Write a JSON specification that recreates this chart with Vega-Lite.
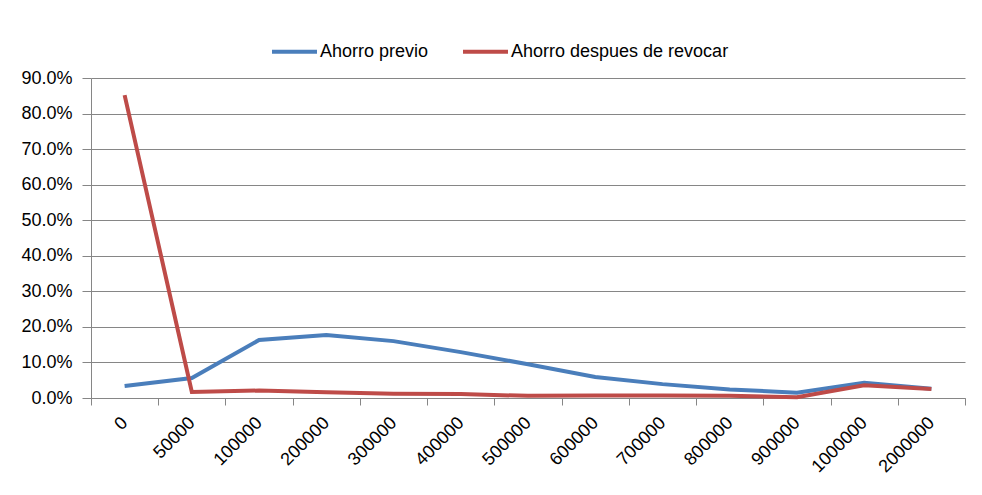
{
  "$schema": "https://vega.github.io/schema/vega-lite/v6.json",
  "autosize": {"type": "none"},
  "width": 874,
  "height": 320,
  "padding": {"left": 91, "top": 78, "right": 17, "bottom": 97},
  "background": "white",
  "config": {
    "font": "Liberation Sans",
    "view": {"stroke": null},
    "axis": {"labelFont": "Liberation Sans", "labelFontSize": 18, "labelColor": "#000000", "domainColor": "#868686", "tickColor": "#868686", "gridColor": "#868686", "gridOpacity": 1}
  },
  "data": {
    "values": [
      {"ingreso": "0", "serie": "Ahorro previo", "valor": 0.034},
      {"ingreso": "50000", "serie": "Ahorro previo", "valor": 0.056},
      {"ingreso": "100000", "serie": "Ahorro previo", "valor": 0.163},
      {"ingreso": "200000", "serie": "Ahorro previo", "valor": 0.177},
      {"ingreso": "300000", "serie": "Ahorro previo", "valor": 0.160},
      {"ingreso": "400000", "serie": "Ahorro previo", "valor": 0.129},
      {"ingreso": "500000", "serie": "Ahorro previo", "valor": 0.095},
      {"ingreso": "600000", "serie": "Ahorro previo", "valor": 0.059},
      {"ingreso": "700000", "serie": "Ahorro previo", "valor": 0.039},
      {"ingreso": "800000", "serie": "Ahorro previo", "valor": 0.024},
      {"ingreso": "900000", "serie": "Ahorro previo", "valor": 0.015},
      {"ingreso": "1000000", "serie": "Ahorro previo", "valor": 0.043},
      {"ingreso": "2000000", "serie": "Ahorro previo", "valor": 0.026},
      {"ingreso": "0", "serie": "Ahorro despues de revocar", "valor": 0.852},
      {"ingreso": "50000", "serie": "Ahorro despues de revocar", "valor": 0.017},
      {"ingreso": "100000", "serie": "Ahorro despues de revocar", "valor": 0.021},
      {"ingreso": "200000", "serie": "Ahorro despues de revocar", "valor": 0.016},
      {"ingreso": "300000", "serie": "Ahorro despues de revocar", "valor": 0.012},
      {"ingreso": "400000", "serie": "Ahorro despues de revocar", "valor": 0.011},
      {"ingreso": "500000", "serie": "Ahorro despues de revocar", "valor": 0.006},
      {"ingreso": "600000", "serie": "Ahorro despues de revocar", "valor": 0.007},
      {"ingreso": "700000", "serie": "Ahorro despues de revocar", "valor": 0.007},
      {"ingreso": "800000", "serie": "Ahorro despues de revocar", "valor": 0.006},
      {"ingreso": "900000", "serie": "Ahorro despues de revocar", "valor": 0.002},
      {"ingreso": "1000000", "serie": "Ahorro despues de revocar", "valor": 0.036},
      {"ingreso": "2000000", "serie": "Ahorro despues de revocar", "valor": 0.025}
    ]
  },
  "mark": {"type": "line", "strokeWidth": 4},
  "encoding": {
    "x": {
      "field": "ingreso", "type": "nominal", "sort": null, "bandPosition": 0.5,
      "scale": {"type": "band", "paddingInner": 0, "paddingOuter": 0},
      "axis": {"title": null, "tickBand": "extent", "tickSize": 7, "labelAngle": -45, "labelAlign": "right", "labelBaseline": "middle", "labelPadding": 15, "grid": false}
    },
    "y": {
      "field": "valor", "type": "quantitative",
      "scale": {"domain": [0, 0.9], "nice": false, "zero": true},
      "axis": {"title": null, "format": ".1%", "values": [0, 0.1, 0.2, 0.3, 0.4, 0.5, 0.6, 0.7, 0.8, 0.9], "tickSize": 9, "labelPadding": 10, "grid": true}
    },
    "color": {
      "field": "serie", "type": "nominal",
      "scale": {"domain": ["Ahorro previo", "Ahorro despues de revocar"], "range": ["#4a7ebb", "#be4b48"]},
      "legend": {"title": null, "orient": "none", "direction": "horizontal", "legendX": 179, "legendY": -51, "symbolType": "stroke", "symbolSize": 2025, "symbolStrokeWidth": 4, "labelFontSize": 18, "labelFont": "Liberation Sans", "labelColor": "#000000", "labelOffset": 1, "labelLimit": 0, "columnPadding": 26}
    }
  }
}
